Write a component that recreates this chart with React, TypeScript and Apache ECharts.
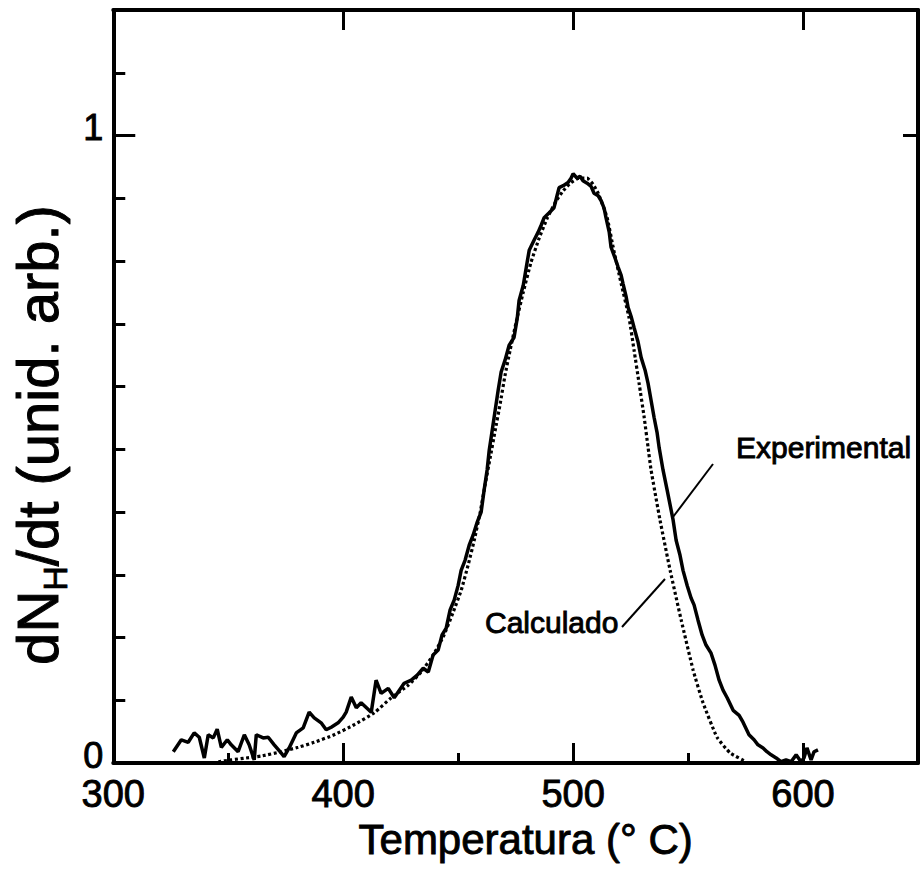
import React, { useEffect, useRef } from "react";
import * as echarts from "echarts";

// Experimental curve: temperature (°C) and dN_H/dt (arb. units)
const expTemp = [
  326.1, 329.6, 332.6, 335.2, 337.4, 339.6, 341.3, 343.5, 345.2, 347.0,
  349.6, 351.3, 354.3, 357.0, 359.1, 361.3, 362.2, 365.2, 367.4, 370.0,
  373.0, 374.3, 376.5, 379.6, 382.6, 385.2, 387.4, 390.4, 392.6, 394.8,
  397.8, 400.0, 401.3, 403.5, 405.7, 407.8, 412.2, 414.3, 416.5, 419.6,
  422.2, 426.5, 429.6, 432.2, 434.8, 437.0, 439.1, 441.3, 443.0, 444.8,
  446.5, 448.3, 450.0, 451.3, 453.0, 454.8, 456.5, 458.3, 460.0, 461.3,
  462.6, 463.5, 464.8, 466.1, 467.4, 468.7, 470.4, 472.2, 474.3, 475.7,
  476.5, 478.3, 480.0, 480.9, 483.0, 484.8, 486.1, 487.4, 489.6, 491.7,
  493.0, 493.9, 495.7, 497.8, 499.1, 500.0, 501.7, 503.0, 504.3, 506.1,
  507.8, 509.1, 510.9, 512.2, 513.5, 514.3, 515.7, 516.5, 518.3, 519.6,
  520.9, 521.7, 523.0, 523.9, 525.2, 526.5, 528.3, 529.6, 531.3, 532.6,
  533.9, 535.2, 536.5, 537.4, 539.1, 540.9, 542.2, 543.5, 544.8, 546.5,
  547.8, 549.6, 551.3, 552.6, 554.3, 556.1, 557.8, 560.0, 561.7, 563.5,
  565.2, 567.0, 569.6, 572.2, 573.9, 576.5, 578.7, 580.4, 582.6, 584.3,
  586.1, 588.3, 590.4, 592.6, 594.8, 597.0, 599.1, 600.4, 601.7, 603.5,
  604.8, 606.5,
];
const expSignal = [
  0.018, 0.037, 0.033, 0.048, 0.041, 0.008, 0.045, 0.040, 0.054, 0.025,
  0.037, 0.029, 0.018, 0.045, 0.029, 0.005, 0.045, 0.040, 0.041, 0.029,
  0.016, 0.010, 0.024, 0.048, 0.056, 0.081, 0.072, 0.064, 0.053, 0.057,
  0.064, 0.073, 0.081, 0.105, 0.088, 0.096, 0.081, 0.132, 0.111, 0.119,
  0.104, 0.127, 0.132, 0.140, 0.151, 0.145, 0.172, 0.180, 0.204, 0.215,
  0.244, 0.260, 0.283, 0.307, 0.323, 0.347, 0.363, 0.384, 0.400, 0.435,
  0.467, 0.498, 0.530, 0.562, 0.594, 0.623, 0.642, 0.666, 0.678, 0.709,
  0.737, 0.761, 0.798, 0.817, 0.833, 0.846, 0.857, 0.869, 0.877, 0.885,
  0.904, 0.917, 0.920, 0.925, 0.932, 0.939, 0.932, 0.935, 0.928, 0.924,
  0.919, 0.908, 0.904, 0.896, 0.884, 0.869, 0.846, 0.822, 0.804, 0.790,
  0.777, 0.764, 0.744, 0.726, 0.712, 0.694, 0.670, 0.646, 0.626, 0.605,
  0.578, 0.551, 0.527, 0.503, 0.467, 0.435, 0.411, 0.387, 0.355, 0.331,
  0.307, 0.283, 0.263, 0.252, 0.228, 0.204, 0.188, 0.175, 0.156, 0.132,
  0.116, 0.104, 0.084, 0.076, 0.065, 0.045, 0.037, 0.029, 0.024, 0.018,
  0.013, 0.008, 0.002, 0.005, 0.002, 0.013, 0.002, 0.008, 0.024, 0.005,
  0.018, 0.021,
];

// Calculated curve
const calcTemp = [
  345.7, 351.3, 357.8, 364.3, 373.0, 380.4, 387.4, 396.1, 404.8, 413.5,
  420.9, 428.3, 433.9, 439.1, 443.5, 447.8, 451.3, 454.3, 457.0, 459.6,
  461.7, 463.9, 466.1, 468.3, 470.4, 472.6, 475.2, 478.3, 481.7, 485.2,
  488.7, 492.2, 495.7, 499.1, 502.6, 506.1, 508.7, 510.9, 514.8, 517.4,
  520.9, 524.3, 526.5, 528.7, 530.9, 532.6, 533.9, 537.8, 542.2, 547.0,
  552.2, 556.5, 562.6, 568.3, 575.2,
];
const calcSignal = [
  0.002, 0.005, 0.008, 0.011, 0.018, 0.025, 0.033, 0.045, 0.061, 0.080,
  0.104, 0.124, 0.145, 0.172, 0.201, 0.240, 0.275, 0.315, 0.355, 0.400,
  0.443, 0.486, 0.530, 0.573, 0.618, 0.658, 0.702, 0.750, 0.798, 0.836,
  0.868, 0.893, 0.912, 0.925, 0.932, 0.932, 0.922, 0.908, 0.869, 0.822,
  0.764, 0.710, 0.658, 0.605, 0.551, 0.503, 0.467, 0.387, 0.307, 0.228,
  0.148, 0.096, 0.041, 0.016, 0.002,
];

const xLabelValues = [300, 400, 500, 600];
const yLabelValues = [0, 1];

const FONT = "'Liberation Sans', Arial, Helvetica, sans-serif";
const INK = "#000";

export default function App() {
  const ref = useRef<HTMLDivElement>(null);

  useEffect(() => {
    if (!ref.current) return;
    const chart = echarts.init(ref.current, null, { renderer: "svg" });

    const expData = expTemp.map((t, i) => [t, expSignal[i]]);
    const calcData = calcTemp.map((t, i) => [t, calcSignal[i]]);

    const line = { show: true, onZero: false, lineStyle: { color: INK, width: 4 } };
    const noSplit = { show: false };

    const option: any = {
      animation: false,
      backgroundColor: "#fff",
      grid: { left: 112, right: 4, top: 10, bottom: 111, containLabel: false },
      xAxis: [
        {
          type: "value", min: 300, max: 650, interval: 100, position: "bottom",
          name: "Temperatura (° C)", nameLocation: "middle", nameGap: 55,
          nameTextStyle: { fontSize: 42, color: INK, fontFamily: FONT, textBorderColor: INK, textBorderWidth: 0.9, padding: [0, 0, 0, 20] },
          axisLine: line,
          axisTick: { show: true, inside: true, length: 20, lineStyle: { color: INK, width: 3 } },
          axisLabel: {
            fontSize: 38, color: INK, fontFamily: FONT, margin: 12,
            textBorderColor: INK, textBorderWidth: 0.9,
            formatter: (v: number) => (xLabelValues.includes(v) ? String(v) : ""),
          },
          splitLine: noSplit,
        },
        {
          type: "value", min: 300, max: 650, interval: 50, position: "bottom",
          axisLine: { show: false },
          axisTick: { show: true, inside: true, length: 10, lineStyle: { color: INK, width: 3 } },
          axisLabel: { show: false },
          splitLine: noSplit,
        },
        {
          type: "value", min: 300, max: 650, interval: 100, position: "top",
          axisLine: line,
          axisTick: { show: true, inside: true, length: 20, lineStyle: { color: INK, width: 3 } },
          axisLabel: { show: false },
          splitLine: noSplit,
        },
      ],
      yAxis: [
        {
          type: "value", min: 0, max: 1.2, interval: 1, position: "left",
          name: "{a|dN}{s|H}{a|/dt (unid. arb.)}",
          nameLocation: "middle", nameRotate: 90, nameGap: 36,
          nameTextStyle: {
            color: INK, fontFamily: FONT, padding: [0, 97, 0, 0],
            rich: {
              a: { fontSize: 58, fontFamily: FONT, color: INK, lineHeight: 68, textBorderColor: INK, textBorderWidth: 1 },
              s: { fontSize: 34, fontFamily: FONT, color: INK, lineHeight: 34, verticalAlign: "bottom", textBorderColor: INK, textBorderWidth: 0.8 },
            },
          },
          axisLine: line,
          axisTick: { show: true, inside: true, length: 22, lineStyle: { color: INK, width: 3 } },
          axisLabel: {
            fontSize: 36, color: INK, fontFamily: FONT, margin: 10,
            verticalAlign: "bottom", lineHeight: 16,
            textBorderColor: INK, textBorderWidth: 0.9,
            formatter: (v: number) => (yLabelValues.includes(v) ? String(v) : ""),
          },
          splitLine: noSplit,
        },
        {
          type: "value", min: 0, max: 1.2, interval: 0.1, position: "left",
          axisLine: { show: false },
          axisTick: { show: true, inside: true, length: 12, lineStyle: { color: INK, width: 3 } },
          axisLabel: { show: false },
          splitLine: noSplit,
        },
        {
          type: "value", min: 0, max: 1.2, interval: 1, position: "right",
          axisLine: line,
          axisTick: { show: true, inside: true, length: 15, lineStyle: { color: INK, width: 3 } },
          axisLabel: { show: false },
          splitLine: noSplit,
        },
      ],
      series: [
        {
          name: "Experimental", type: "line", xAxisIndex: 0, yAxisIndex: 0,
          data: expData, showSymbol: false, symbol: "none",
          lineStyle: { color: INK, width: 3.5 }, z: 3,
        },
        {
          name: "Calculado", type: "line", xAxisIndex: 0, yAxisIndex: 0,
          data: calcData, showSymbol: false, symbol: "none", smooth: 0.15,
          lineStyle: { color: INK, width: 3.2, type: [3, 2.6], cap: "butt" }, z: 2,
        },
      ],
      graphic: [
        {
          type: "text", x: 736, y: 447, z: 10,
          style: { text: "Experimental", fontSize: 30, fontFamily: FONT, fill: INK, align: "left", verticalAlign: "middle", stroke: INK, lineWidth: 0.9 },
        },
        {
          type: "line", z: 10,
          shape: { x1: 713, y1: 464, x2: 673, y2: 517 },
          style: { stroke: INK, lineWidth: 2 },
        },
        {
          type: "text", x: 485, y: 622, z: 10,
          style: { text: "Calculado", fontSize: 30, fontFamily: FONT, fill: INK, align: "left", verticalAlign: "middle", stroke: INK, lineWidth: 0.9 },
        },
        {
          type: "line", z: 10,
          shape: { x1: 622, y1: 627, x2: 665, y2: 579 },
          style: { stroke: INK, lineWidth: 2 },
        },
      ],
    };

    chart.setOption(option);
    return () => chart.dispose();
  }, []);

  return (
    <div
      ref={ref}
      style={{ position: "absolute", left: 0, top: 0, width: 922, height: 874, background: "#fff" }}
    />
  );
}
